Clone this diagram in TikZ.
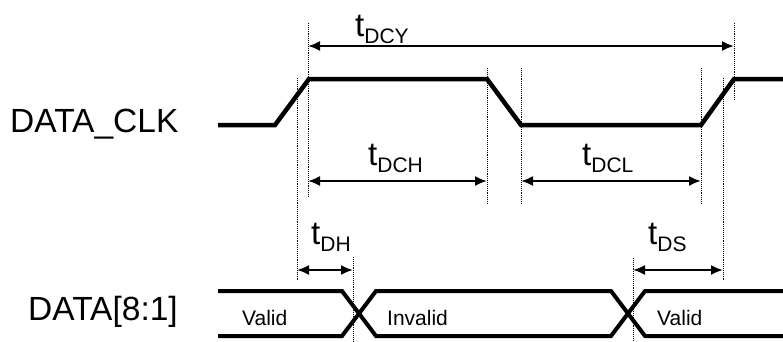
\documentclass[tikz,border=0pt]{standalone}
\usepackage{fontspec}
\setmainfont{Liberation Sans}
\usetikzlibrary{arrows.meta}

\newcommand{\tlabel}[1]{{\fontsize{33}{33}\selectfont t}\raisebox{-7pt}{\fontsize{21}{21}\selectfont #1}}

\begin{document}
\begin{tikzpicture}[x=1pt, y=-1pt,
    signal/.style={line width=4.5pt, line join=miter},
    bus/.style={line width=4pt, line join=miter},
    guide/.style={densely dotted, line width=0.9pt},
    span/.style={{Latex[length=12pt,width=10pt]}-{Latex[length=12pt,width=10pt]}, line width=2pt},
    timing/.style={inner sep=0pt, anchor=base west},
    signame/.style={font=\fontsize{33.5}{40}\selectfont, inner sep=0pt, anchor=base west},
    bustext/.style={font=\fontsize{21}{25}\selectfont, inner sep=0pt, anchor=base west}]

    \useasboundingbox (0,0) rectangle (783,341);

    % signal names
    \node[signame] (clkname) at (10,132) {DATA\_CLK};
    \node[signame] (dataname) at (28,320) {DATA[8:1]};

    % clock waveform
    \draw[signal] (218,125) -- (275,125) -- (309,79) -- (487,79)
        -- (521,125) -- (701,125) -- (734,79) -- (783,79);

    % data bus
    \draw[bus] (218,291) -- (342,291) -- (376,336) -- (611,336) -- (645,291) -- (783,291);
    \draw[bus] (218,336) -- (342,336) -- (376,291) -- (611,291) -- (645,336) -- (783,336);
    \node[bustext] (valid1) at (242,325) {Valid};
    \node[bustext] (invalid) at (387,325) {Invalid};
    \node[bustext] (valid2) at (657,325) {Valid};

    % guide lines
    \draw[guide] (297,78) -- (297,280);
    \draw[guide] (308,23) -- (308,196);
    \draw[guide] (487,68) -- (487,203);
    \draw[guide] (521,68) -- (521,203);
    \draw[guide] (701,68) -- (701,203);
    \draw[guide] (723,78) -- (723,280);
    \draw[guide] (734,23) -- (734,100);
    \draw[guide] (353,257) -- (353,341);
    \draw[guide] (633,258) -- (633,341);

    % timing arrows
    \coordinate (dcy-l) at (308,46);
    \coordinate (dcy-r) at (734,46);
    \coordinate (dch-l) at (308,181);
    \coordinate (dch-r) at (487,181);
    \coordinate (dcl-l) at (521,181);
    \coordinate (dcl-r) at (701,181);
    \coordinate (dh-l) at (297,270);
    \coordinate (dh-r) at (353,270);
    \coordinate (ds-l) at (633,270);
    \coordinate (ds-r) at (723,270);
    \draw[span] (dcy-l) -- (dcy-r);
    \draw[span] (dch-l) -- (dch-r);
    \draw[span] (dcl-l) -- (dcl-r);
    \draw[span] (dh-l) -- (dh-r);
    \draw[span] (ds-l) -- (ds-r);

    \node[timing] (tdcy) at (355,36) {\tlabel{DCY}};
    \node[timing] (tdch) at (368,165) {\tlabel{DCH}};
    \node[timing] (tdcl) at (582,165) {\tlabel{DCL}};
    \node[timing] (tdh) at (311,244) {\tlabel{DH}};
    \node[timing] (tds) at (648,244) {\tlabel{DS}};
\end{tikzpicture}
\end{document}
